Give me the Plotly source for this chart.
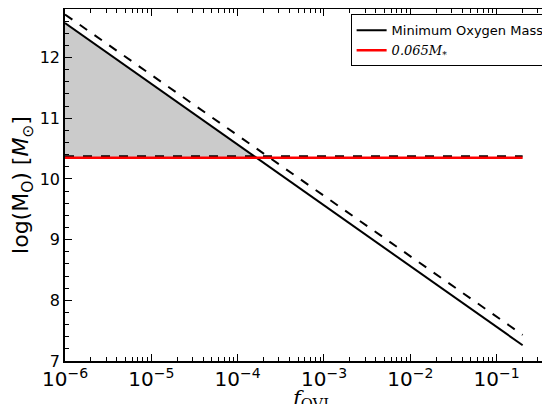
import plotly.graph_objects as go

# minimum oxygen mass lines (endpoints)
x_ends = [1e-6, 0.2]
mo_solid = [12.57, 7.26]
mo_dashed = [12.71, 7.43]
# 0.065 M* level
m_star_level = 10.35
m_star_dashed = 10.375
x_cross = 1.66e-4  # where solid line meets red line

fig = go.Figure()

# grey shaded region between solid line and red line
fig.add_trace(go.Scatter(x=[x_ends[0], x_cross], y=[m_star_level, m_star_level],
                         mode='lines', line=dict(width=0), showlegend=False, hoverinfo='skip'))
fig.add_trace(go.Scatter(x=[x_ends[0], x_cross],
                         y=[mo_solid[0], m_star_level],
                         mode='lines', line=dict(width=0), fill='tonexty',
                         fillcolor='#cbcbcb', showlegend=False, hoverinfo='skip'))

fig.add_trace(go.Scatter(x=x_ends, y=mo_dashed, mode='lines',
                         line=dict(color='black', width=2, dash='dash'), showlegend=False))
fig.add_trace(go.Scatter(x=x_ends, y=mo_solid, mode='lines',
                         line=dict(color='black', width=2), name='Minimum Oxygen Mass'))
fig.add_trace(go.Scatter(x=x_ends, y=[m_star_dashed, m_star_dashed], mode='lines',
                         line=dict(color='black', width=2, dash='dash'), showlegend=False))
fig.add_trace(go.Scatter(x=x_ends, y=[m_star_level, m_star_level], mode='lines',
                         line=dict(color='red', width=2.5),
                         name='<span style="font-family:DejaVu Serif"><i>0.065M</i><sub>*</sub></span>'))

axis_common = dict(showgrid=False, zeroline=False, showline=True, linecolor='black',
                   linewidth=1.5, mirror='allticks', ticks='inside', ticklen=7,
                   tickcolor='black', tickfont=dict(size=16, color='black'),
                   automargin=False)

fig.update_xaxes(type='log', range=[-6, 0.699 - 1], dtick=1, exponentformat='power',
                 minor=dict(ticks='inside', ticklen=4, tickcolor='black'),
                 title=dict(text='<i>f</i><sub>OVI</sub>',
                            font=dict(family='DejaVu Serif', size=21, color='black'),
                            standoff=0),
                 **axis_common)
fig.update_yaxes(range=[7, 12.8], dtick=1,
                 minor=dict(ticks='inside', ticklen=4, tickcolor='black', dtick=0.2),
                 title=dict(text='log(M<sub>O</sub>) [<i>M</i><sub>⊙</sub>]',
                            font=dict(size=22, color='black'), standoff=6),
                 **axis_common)

fig.update_layout(
    width=550, height=404,
    margin=dict(l=57, r=1, t=1, b=51),
    plot_bgcolor='white', paper_bgcolor='white',
    font=dict(family='DejaVu Sans', color='black'),
    legend=dict(x=0.985, y=0.985, xanchor='right', yanchor='top',
                bordercolor='black', borderwidth=1, bgcolor='white',
                font=dict(size=13), tracegroupgap=0, traceorder='normal'),
)

fig.write_html("out.html")
